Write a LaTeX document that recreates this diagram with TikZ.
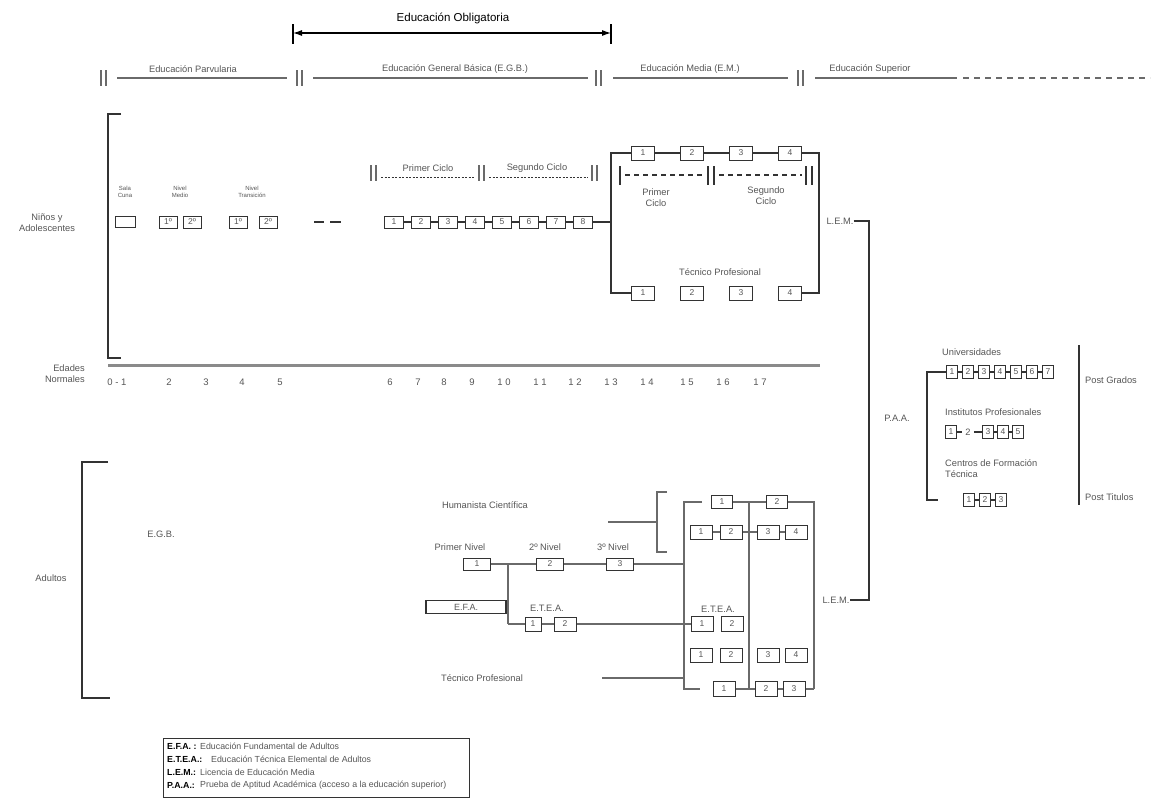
\documentclass[tikz,border=0pt]{standalone}
\usepackage{fontspec}
\setmainfont{Liberation Sans}
\usetikzlibrary{arrows.meta}
\definecolor{tg}{HTML}{555555}
\definecolor{lg}{HTML}{6A6A6A}
\definecolor{bk}{HTML}{333333}
\definecolor{ax}{HTML}{8A8A8A}
\tikzset{
 lbl/.style={text=tg, font=\fontsize{9.3}{11}\selectfont, inner sep=0pt},
 small/.style={text=tg, font=\fontsize{6}{6.5}\selectfont, inner sep=0pt, align=center},
 ln/.style={draw=lg, line width=1.3pt},
 dk/.style={draw=bk, line width=1.2pt},
 bx/.style={draw=bk, line width=1pt, fill=white, minimum width=19pt, minimum height=12pt, inner sep=0pt, text=tg, font=\fontsize{8.5}{8.5}\selectfont},
 bxs/.style={bx, minimum width=11pt, minimum height=13pt},
 dbar/.pic={\draw[draw=lg, line width=1.3pt] (0,-8)--(0,8) (5,-8)--(5,8);},
}
\begin{document}
\begin{tikzpicture}[x=1pt,y=-1pt]
\useasboundingbox (0,0) rectangle (1156,804);
% ---- title and arrow
\node[font=\fontsize{11.5}{13}\selectfont] (oblig) at (453,18) {Educación Obligatoria};
\coordinate (obL) at (293,33); \coordinate (obR) at (611,33);
\draw[line width=1.2pt] (293,24)--(293,44) (611,24)--(611,44);
\draw[line width=1.1pt,{Latex[length=9pt,width=6pt]}-{Latex[length=9pt,width=6pt]}] (obL)--(obR);
% ---- level segments
\pic at (101,78) {dbar};
\pic at (297,78) {dbar};
\pic at (596,78) {dbar};
\pic at (798,78) {dbar};
\draw[ln,line width=2pt] (117,78)--(287,78) (313,78)--(588,78) (613,78)--(788,78) (815,78)--(957,78);
\draw[ln,line width=2pt,dash pattern=on 6pt off 5pt] (963,78)--(1150,78);
\node[lbl] (parv) at (193,69) {Educación Parvularia};
\node[lbl] (egbl) at (455,69) {Educación General Básica (E.G.B.)};
\node[lbl] (eml) at (690,69) {Educación Media (E.M.)};
\node[lbl] (esl) at (870,69) {Educación Superior};
% ---- Niños bracket & axis
\draw[dk] (121,114)--(108,114)--(108,358)--(121,358);
\node[lbl,align=center] (ninos) at (47,223) {Niños y\\Adolescentes};
\draw[draw=ax,line width=3pt] (108,365)--(820,365);
\node[lbl,align=right,anchor=east] (edades) at (85,374) {Edades\\Normales};
\foreach \t/\x in {0 - 1/117,2/169,3/206,4/242,5/280,6/390,7/418,8/444,9/472,1 0/504,1 1/540,1 2/575,1 3/611,1 4/647,1 5/687,1 6/723,1 7/760}
  \node[lbl,font=\fontsize{9.5}{10}\selectfont] at (\x,382) {\t};
% ---- preschool
\node[small] (sc) at (125,192) {Sala\\Cuna};
\node[bx,minimum width=20pt,minimum height=11pt] (sala) at (125,222) {};
\node[small] (nm) at (180,192) {Nivel\\Medio};
\node[bx,minimum width=18pt] (nm1) at (168,222) {1º};
\node[bx,minimum width=18pt] (nm2) at (192,222) {2º};
\node[small] (nt) at (252,192) {Nivel\\Transición};
\node[bx,minimum width=18pt] (nt1) at (238,222) {1º};
\node[bx,minimum width=18pt] (nt2) at (268,222) {2º};
\draw[draw=bk,line width=1.5pt] (314,222)--(324,222) (330,222)--(341,222);
% ---- EGB cycles
\pic at (371,173) {dbar};
\pic at (479,173) {dbar};
\pic at (592,173) {dbar};
\draw[draw=bk,line width=0.9pt,dash pattern=on 2pt off 1.5pt] (381,177)--(475,177) (489,177)--(588,177);
\node[lbl] (pc) at (428,168) {Primer Ciclo};
\node[lbl] (sgc) at (537,168) {Segundo Ciclo};
\foreach \i in {1,...,8}
  \node[bx] (egb\i) at ({367+27*\i},222) {\i};
\foreach \i [count=\j from 2] in {1,...,7}
  \draw[dk] (egb\i) -- (egb\j);
% ---- EM frame
\coordinate (fork) at (611,222);
\coordinate (emTL) at (611,153); \coordinate (emBL) at (611,293);
\coordinate (emTR) at (819,153); \coordinate (emBR) at (819,293);
\foreach \i/\x in {1/643,2/692,3/741,4/790} {
  \node[bx,minimum width=23pt,minimum height=14pt] (em\i) at (\x,153) {\i};
  \node[bx,minimum width=23pt,minimum height=14pt] (tp\i) at (\x,293) {\i};
}
\draw[dk] (egb8) -- (fork);
\draw[dk] (em1) -- (emTL) -- (emBL) -- (tp1);
\draw[dk] (em4) -- (emTR) -- (emBR) -- (tp4);
\draw[dk] (em1) -- (em2) -- (em3) -- (em4);
\draw[draw=bk,line width=1.2pt] (620,166)--(620,185) (708,166)--(708,185) (714,166)--(714,185) (806,166)--(806,185) (812,166)--(812,185);
\draw[draw=bk,line width=1.2pt,dash pattern=on 5pt off 4pt] (625,175)--(704,175) (719,175)--(802,175);
\node[lbl,align=center] (emp) at (656,198) {Primer\\Ciclo};
\node[lbl,align=center] (ems) at (766,196) {Segundo\\Ciclo};
\node[lbl] (tpl) at (720,272) {Técnico Profesional};
% ---- L.E.M. and P.A.A.
\node[lbl] (lem1) at (840,221) {L.E.M.};
\node[lbl] (lem2) at (836,600) {L.E.M.};
\coordinate (lemT) at (869,221); \coordinate (lemB) at (869,600);
\draw[dk] (lem1) -- (lemT) -- (lemB) -- (lem2);
\node[lbl] (paa) at (897,418) {P.A.A.};
% ---- Higher education
\node[lbl,anchor=west] (univ) at (942,352) {Universidades};
\foreach \i in {1,...,7}
  \node[bxs] (u\i) at ({936+16*\i},372) {\i};
\foreach \i [count=\j from 2] in {1,...,6}
  \draw[dk] (u\i) -- (u\j);
\coordinate (brT) at (927,372); \coordinate (brB) at (927,500); \coordinate (brE) at (938,500);
\draw[dk] (u1) -- (brT) -- (brB) -- (brE);
\node[lbl,anchor=west] (ipl) at (945,412) {Institutos Profesionales};
\node[bxs] (ip1) at (951,432) {1};
\node[lbl,inner sep=3pt] (ip2) at (968,432) {2};
\node[bxs] (ip3) at (988,432) {3};
\node[bxs] (ip4) at (1003,432) {4};
\node[bxs] (ip5) at (1018,432) {5};
\draw[dk] (ip1) -- (ip2) -- (ip3) -- (ip4) -- (ip5);
\node[lbl,anchor=north west,align=left] (cftl) at (945,459) {Centros de Formación\\Técnica};
\node[bxs] (c1) at (969,500) {1};
\node[bxs] (c2) at (985,500) {2};
\node[bxs] (c3) at (1001,500) {3};
\draw[dk] (c1) -- (c2) -- (c3);
\draw[dk] (1079,345)--(1079,505);
\node[lbl,anchor=west] (pg) at (1085,380) {Post Grados};
\node[lbl,anchor=west] (pt) at (1085,497) {Post Titulos};
% ---- Adults
\draw[dk] (108,462)--(82,462)--(82,698)--(110,698);
\node[lbl] (adultos) at (51,578) {Adultos};
\node[lbl] (egba) at (161,534) {E.G.B.};
\node[lbl] (hc) at (485,505) {Humanista Científica};
\coordinate (hcS) at (608,522); \coordinate (hcE) at (657,522);
\draw[ln] (hcS) -- (hcE);
\draw[ln] (667,492)--(657,492)--(657,552)--(667,552);
\node[lbl] (pnl) at (460,547) {Primer Nivel};
\node[lbl] (n2l) at (545,547) {2º Nivel};
\node[lbl] (n3l) at (613,547) {3º Nivel};
\node[bx,minimum width=27pt] (pn1) at (477,564) {1};
\node[bx,minimum width=27pt] (pn2) at (550,564) {2};
\node[bx,minimum width=27pt] (pn3) at (620,564) {3};
\coordinate (br1) at (508,564); \coordinate (br2) at (508,624);
\coordinate (colL) at (684,564);
\draw[ln] (pn1) -- (pn2) -- (pn3) -- (colL);
\draw[ln] (br1) -- (br2);
\node[draw=bk,line width=1.8pt,minimum width=80pt,minimum height=13pt,inner sep=0pt,text=tg,font=\fontsize{9}{9}\selectfont] (efa) at (466,607) {E.F.A.};
\node[lbl] (etea1l) at (547,608) {E.T.E.A.};
\node[bx,minimum width=16pt,minimum height=14pt] (ea1) at (533,624) {1};
\node[bx,minimum width=22pt,minimum height=14pt] (ea2) at (565,624) {2};
\draw[ln] (br2) -- (ea1) -- (ea2);
% right column
\coordinate (cTL) at (684,502); \coordinate (cTLe) at (702,502);
\coordinate (cBL) at (684,689); \coordinate (cBLe) at (700,689);
\coordinate (mT) at (749,502); \coordinate (mB) at (749,689);
\coordinate (cTR) at (814,502); \coordinate (cBR) at (814,689);
\draw[ln] (cTLe) -- (cTL) -- (cBL) -- (cBLe);
\draw[ln] (mT) -- (mB);
\node[bx,minimum width=21pt,minimum height=13pt] (rt1) at (722,502) {1};
\node[bx,minimum width=21pt,minimum height=13pt] (rt2) at (777,502) {2};
\draw[ln] (rt1) -- (rt2) -- (cTR) -- (cBR);
\foreach \n/\x/\t in {a/701/1,b/731/2,c/768/3,d/796/4} {
  \node[bx,minimum width=22pt,minimum height=14pt] (r2\n) at (\x,532) {\t};
  \node[bx,minimum width=22pt,minimum height=14pt] (r4\n) at (\x,655) {\t};
}
\draw[ln] (r2a) -- (r2b) -- (r2c) -- (r2d);
\node[lbl] (etea2l) at (718,609) {E.T.E.A.};
\node[bx,minimum width=22pt,minimum height=15pt] (re1) at (702,624) {1};
\node[bx,minimum width=22pt,minimum height=15pt] (re2) at (732,624) {2};
\draw[ln] (ea2) -- (re1);
\node[bx,minimum width=22pt,minimum height=15pt] (rb1) at (724,689) {1};
\node[bx,minimum width=22pt,minimum height=15pt] (rb2) at (766,689) {2};
\node[bx,minimum width=22pt,minimum height=15pt] (rb3) at (794,689) {3};
\draw[ln] (rb1) -- (rb2) -- (rb3) -- (cBR);
\node[lbl] (tpa) at (482,678) {Técnico Profesional};
\coordinate (tpS) at (602,678); \coordinate (tpE) at (684,678);
\draw[ln] (tpS) -- (tpE);
% ---- legend
\node[draw=bk,line width=1pt,minimum width=306pt,minimum height=59pt,inner sep=0pt] (legend) at (316,767.5) {};
\begin{scope}[every node/.style={anchor=west,inner sep=0pt,font=\fontsize{8.8}{9}\selectfont}]
\node[font=\fontsize{8.8}{9}\selectfont\bfseries] (k1) at (167,746) {E.F.A. :};
\node[text=tg] (d1) at (200,746) {Educación Fundamental de Adultos};
\node[font=\fontsize{8.8}{9}\selectfont\bfseries] (k2) at (167,759) {E.T.E.A.:};
\node[text=tg] (d2) at (211,759) {Educación Técnica Elemental de Adultos};
\node[font=\fontsize{8.8}{9}\selectfont\bfseries] (k3) at (167,772) {L.E.M.:};
\node[text=tg] (d3) at (200,772) {Licencia de Educación Media};
\node[font=\fontsize{8.8}{9}\selectfont\bfseries] (k4) at (167,785) {P.A.A.:};
\node[text=tg] (d4) at (200,785) {Prueba de Aptitud Académica (acceso a la educación superior)};
\end{scope}
\end{tikzpicture}
\end{document}
